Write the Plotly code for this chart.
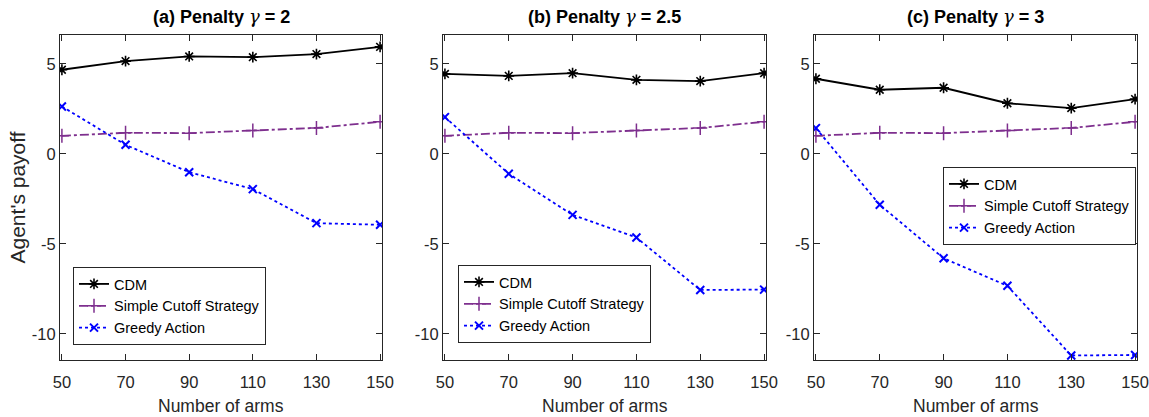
import plotly.graph_objects as go
from plotly.subplots import make_subplots

arms = [50, 70, 90, 110, 130, 150]
arm_labels = ["50", "70", "90", "110", "130", "150"]
gammas = ["2", "2.5", "3"]
panel_tags = ["(a)", "(b)", "(c)"]

cdm_a = [4.67, 5.15, 5.41, 5.37, 5.54, 5.94]
cdm_b = [4.44, 4.33, 4.48, 4.11, 4.04, 4.48]
cdm_c = [4.17, 3.56, 3.67, 2.81, 2.54, 3.04]

cutoff = [1.00, 1.17, 1.15, 1.30, 1.44, 1.78]

greedy_a = [2.63, 0.50, -1.02, -1.96, -3.85, -3.94]
greedy_b = [2.04, -1.11, -3.39, -4.65, -7.56, -7.54]
greedy_c = [1.43, -2.83, -5.80, -7.33, -11.20, -11.17]

yticks = [-10, -5, 0, 5]
ytick_labels = ["-10", "-5", "0", "5"]

FONT = "Liberation Sans, Arial, sans-serif"
AX = "#262626"
W, H = 1149, 417

fig = make_subplots(rows=1, cols=3)

cdm_all = [cdm_a, cdm_b, cdm_c]
greedy_all = [greedy_a, greedy_b, greedy_c]
legends = ["legend", "legend2", "legend3"]

for i in range(3):
    lg = legends[i]
    fig.add_trace(go.Scatter(x=arms, y=cdm_all[i], name="CDM", mode="lines+markers",
                             line=dict(color="black", width=1.8),
                             marker=dict(symbol="asterisk-open", size=9, color="black",
                                         line=dict(color="black", width=1.6)),
                             legend=lg), row=1, col=i + 1)
    fig.add_trace(go.Scatter(x=arms, y=cutoff, name="Simple Cutoff Strategy", mode="lines+markers",
                             line=dict(color="#7E2F8E", width=1.8, dash="dashdot"),
                             marker=dict(symbol="cross-thin-open", size=10, color="#7E2F8E",
                                         line=dict(color="#7E2F8E", width=1.5)),
                             legend=lg), row=1, col=i + 1)
    fig.add_trace(go.Scatter(x=arms, y=greedy_all[i], name="Greedy Action", mode="lines+markers",
                             line=dict(color="#0000FF", width=1.8, dash="dot"),
                             marker=dict(symbol="x-thin-open", size=8, color="#0000FF",
                                         line=dict(color="#0000FF", width=2)),
                             legend=lg), row=1, col=i + 1)

px_dom = [(60, 382), (443, 766), (814, 1137)]
domains = [[a / W, b / W] for a, b in px_dom]
ydom = [1 - 360 / H, 1 - 35 / H]
for i in range(3):
    fig.update_xaxes(domain=domains[i], range=[49.4, 150.6], tickvals=arms, ticktext=arm_labels,
                     showline=True, mirror="ticks", linecolor=AX, linewidth=1, automargin=False,
                     ticks="inside", ticklen=6, tickcolor=AX, showgrid=False, zeroline=False,
                     ticklabelstandoff=7,
                     tickfont=dict(family=FONT, size=16.5, color=AX),
                     row=1, col=i + 1)
    fig.update_yaxes(domain=ydom, range=[-11.45, 6.6], tickvals=yticks, ticktext=ytick_labels,
                     showline=True, mirror="ticks", linecolor=AX, linewidth=1, automargin=False,
                     ticks="inside", ticklen=6, tickcolor=AX, showgrid=False, zeroline=False,
                     tickfont=dict(family=FONT, size=16.5, color=AX),
                     row=1, col=i + 1)

centers = [(d[0] + d[1]) / 2 for d in domains]
gamma_span = '<span style="font-family:DejaVu Serif;font-style:italic;font-weight:normal">γ</span>'
for i in range(3):
    fig.add_annotation(text="<b>" + panel_tags[i] + " Penalty " + gamma_span + " = " + gammas[i] + "</b>",
                       x=centers[i], y=1 - 17 / H,
                       xref="paper", yref="paper", showarrow=False,
                       font=dict(family=FONT, size=18, color="black"), xanchor="center", yanchor="middle")
    fig.add_annotation(text="Number of arms", x=centers[i], y=1 - 406 / H,
                       xref="paper", yref="paper", showarrow=False,
                       font=dict(family=FONT, size=17.5, color=AX), xanchor="center", yanchor="middle")

fig.add_annotation(text="Agent's payoff", x=17.5 / W, y=1 - 198 / H, textangle=-90,
                   xref="paper", yref="paper", showarrow=False,
                   font=dict(family=FONT, size=21, color=AX), xanchor="center", yanchor="middle")

leg_style = dict(bgcolor="white", bordercolor=AX, borderwidth=1,
                 font=dict(family=FONT, size=14.5, color="black"),
                 xanchor="left", yanchor="top", itemwidth=30, tracegroupgap=0)
fig.update_layout(
    legend=dict(x=73 / W, y=1 - 267 / H, **leg_style),
    legend2=dict(x=458 / W, y=1 - 265 / H, **leg_style),
    legend3=dict(x=943 / W, y=1 - 167 / H, **leg_style),
    width=W, height=H,
    margin=dict(l=0, r=0, t=0, b=0),
    plot_bgcolor="white", paper_bgcolor="white",
    showlegend=True,
)

fig.write_html("out.html", config={"displayModeBar": False},
               post_script="document.body.style.margin='0';document.body.style.overflow='hidden';")
